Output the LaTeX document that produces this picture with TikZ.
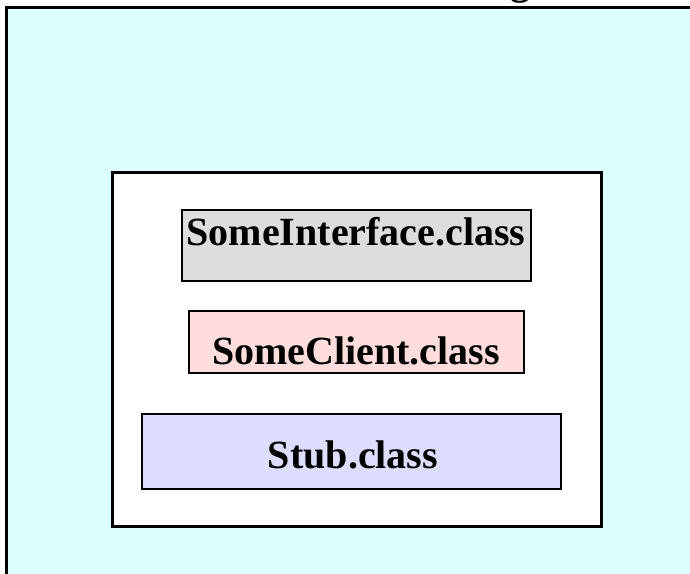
\documentclass[tikz,border=0pt]{standalone}
\usepackage{fontspec}
\setmainfont{Liberation Serif}
\begin{document}
\begin{tikzpicture}[x=1pt,y=-1pt,
  frame/.style={draw=black,line width=3pt},
  classbox/.style={draw=black,line width=2.8pt},
  lbl/.style={font=\fontsize{40}{44}\selectfont\bfseries,anchor=base,inner sep=0pt}]
\definecolor{outerfill}{RGB}{221,255,255}
\definecolor{ifill}{RGB}{221,221,221}
\definecolor{cfill}{RGB}{255,221,221}
\definecolor{sfill}{RGB}{221,221,255}
\useasboundingbox (0,0) rectangle (690,573);
\clip (0,0) rectangle (690,573);
\fill[white] (0,0) rectangle (690,573);
% outer container (extends past the picture edges)
\draw[frame,fill=outerfill] (6,7) rectangle (720,600);
% cut-off title glyph
\node[lbl] (title) at (520,-6) {g};
% inner white box
\draw[frame,fill=white] (112,172) rectangle (601,526);
% class boxes
\draw[classbox,fill=ifill] (182,210) rectangle (531,281);
\draw[classbox,fill=cfill] (189,311) rectangle (524,373);
\draw[classbox,fill=sfill] (142,414) rectangle (561,489);
\node[lbl] (iface) at (356,245) {SomeInterface.class};
\node[lbl] (client) at (356,364) {SomeClient.class};
\node[lbl] (stub) at (353,468) {Stub.class};
\end{tikzpicture}
\end{document}
